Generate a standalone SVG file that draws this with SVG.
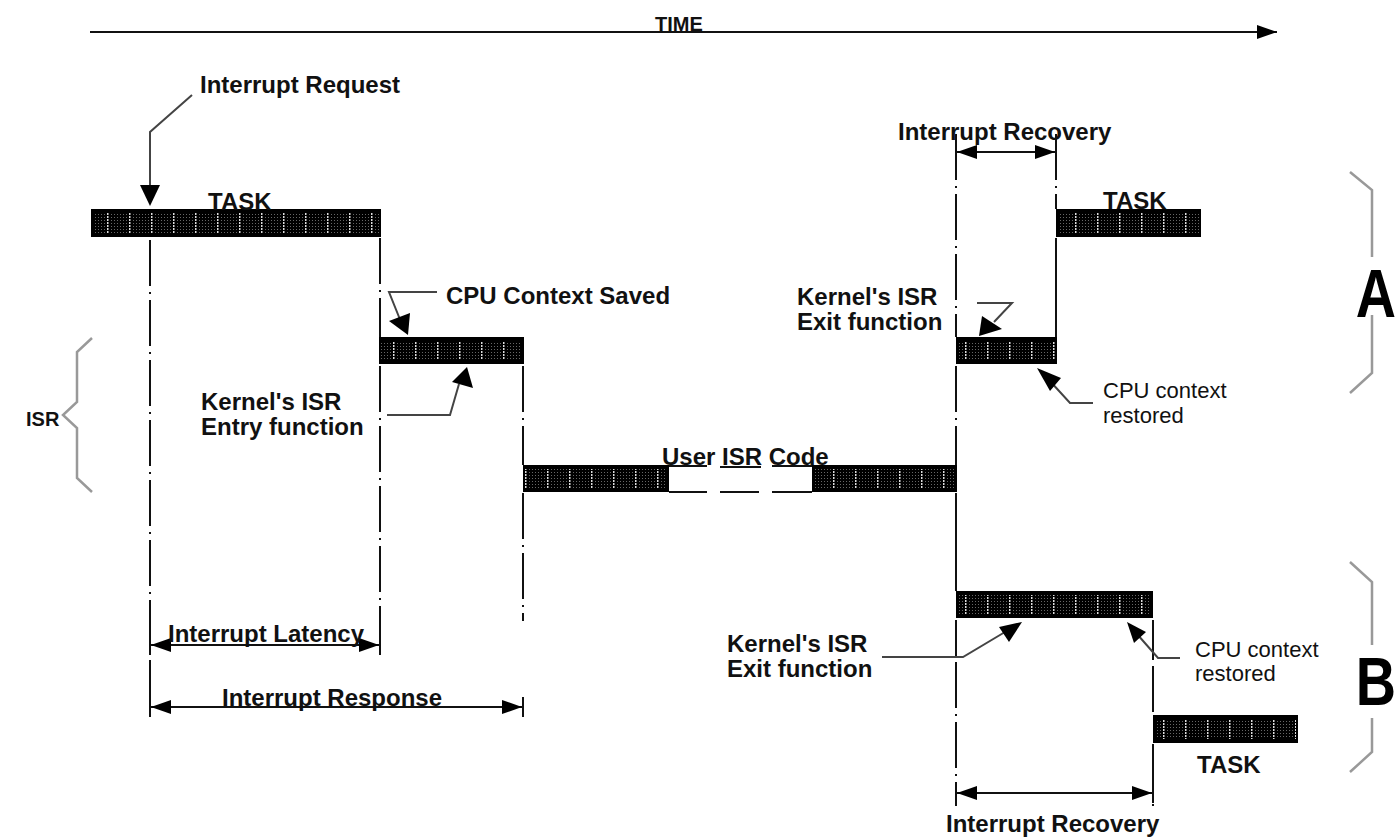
<svg xmlns="http://www.w3.org/2000/svg" width="1397" height="840" viewBox="0 0 1397 840">
<style>
.lbl{font-family:"Liberation Sans",Arial,sans-serif;font-weight:bold;font-size:24px;fill:#111}
.reg{font-family:"Liberation Sans",Arial,sans-serif;font-size:22px;fill:#111}
.big{font-family:"Liberation Sans",Arial,sans-serif;font-weight:bold;font-size:68px;fill:#000}
.ln{stroke:#111;stroke-width:2;fill:none}
.gl{stroke:#444;stroke-width:2;fill:none}
.dd{stroke:#111;stroke-width:2;fill:none;stroke-dasharray:46 6 2 6}
.br{stroke:#999;stroke-width:2.5;fill:none}
.hd{fill:#000}
.bar{fill:#000}
.pat{fill:url(#dots)}
</style>
<defs>
<pattern id="dots" patternUnits="userSpaceOnUse" width="22" height="3">
<rect width="22" height="3" fill="#000"/>
<rect x="1" y="1" width="1" height="1" fill="#666"/>
<rect x="4" y="1" width="1" height="1" fill="#666"/>
<rect x="7" y="1" width="1" height="1" fill="#666"/>
<rect x="10" y="1" width="1" height="1" fill="#666"/>
<rect x="13" y="1" width="1" height="1" fill="#666"/>
<rect x="16" y="1" width="1" height="1" fill="#666"/>
<rect x="19" y="0" width="1.5" height="2" fill="#ddd"/>
</pattern>
<marker id="ah" viewBox="0 0 20 14" refX="20" refY="7" markerWidth="20" markerHeight="14" markerUnits="userSpaceOnUse" orient="auto-start-reverse">
<path d="M0,0 L20,7 L0,14 Z" fill="#000"/>
</marker>
</defs>

<g id="connectors">
<!-- time axis -->
<line class="ln" x1="90" y1="32" x2="1277" y2="32" marker-end="url(#ah)"/>
<!-- vertical guide lines -->
<path class="dd" d="M150,240 V718"/>
<path class="dd" d="M380,238 V337"/>
<path class="dd" d="M380,366 V656"/>
<path class="dd" d="M523,366 V465"/>
<path class="dd" d="M523,493 V621"/>
<path class="ln" d="M523,697 V717"/>
<path class="dd" d="M956,134 V337"/>
<path class="dd" d="M956,366 V465"/>
<path class="ln" d="M956,493 V591"/>
<path class="ln" d="M956,620 V657"/>
<path class="dd" d="M956,662 V806"/>
<path class="dd" d="M1056,134 V209"/>
<path class="ln" d="M1056,238 V337"/>
<path class="ln" d="M1153,620 V660"/>
<path class="dd" d="M1153,666 V715"/>
<path class="dd" d="M1153,744 V806"/>
<!-- User ISR code gap dashes -->
<path class="ln" d="M669,492 H707 M720,492 H759 M772,492 H812"/>
<path class="ln" d="M669,466 H707 M720,467 H761 M772,466 H812"/>
<!-- Interrupt Request -->
<path class="gl" d="M192,95 L150,132 V186"/>
<path class="hd" d="M140,185 L160,185 L150,206 Z"/>
<!-- CPU Context Saved -->
<path class="gl" d="M437,292 H389 L401,322"/>
<path class="hd" d="M389,321 L410,313 L408,335 Z"/>
<!-- Kernel's ISR Entry -->
<path class="gl" d="M387,415 H450 L459,384"/>
<path class="hd" d="M452,382 L473,388 L467,367 Z"/>
<!-- Kernel's ISR Exit (A) -->
<path class="gl" d="M977,303 H1012 L994,322"/>
<path class="hd" d="M982,316 L1002,329 L979,336 Z"/>
<!-- CPU context restored (A) -->
<path class="gl" d="M1093,403 H1070 L1049,380"/>
<path class="hd" d="M1037,368 L1061,378 L1050,391 Z"/>
<!-- Kernel's ISR Exit (B) -->
<path class="gl" d="M882,657 H963 L1005,632"/>
<path class="hd" d="M1022,622 L1009,642 L999,627 Z"/>
<!-- CPU context restored (B) -->
<path class="gl" d="M1180,658 H1158 L1137,634"/>
<path class="hd" d="M1127,622 L1146,632 L1134,643 Z"/>
<!-- dimension arrows -->
<path class="ln" d="M956,143 V161 M1056,143 V161"/>
<line class="ln" x1="957" y1="152" x2="1055" y2="152" marker-start="url(#ah)" marker-end="url(#ah)"/>
<path class="ln" d="M150,635 V655 M380,635 V655"/>
<line class="ln" x1="151" y1="645" x2="379" y2="645" marker-start="url(#ah)" marker-end="url(#ah)"/>
<path class="ln" d="M150,697 V717"/>
<line class="ln" x1="151" y1="707" x2="522" y2="707" marker-start="url(#ah)" marker-end="url(#ah)"/>
<path class="ln" d="M956,783 V803 M1153,783 V803"/>
<line class="ln" x1="957" y1="793" x2="1152" y2="793" marker-start="url(#ah)" marker-end="url(#ah)"/>
<!-- braces -->
<path class="br" d="M92,338 L77,352 V402 L63,415 L77,428 V478 L92,492"/>
<path class="br" d="M1350,172 L1372,190 V257 M1372,315 V373 L1350,393"/>
<path class="br" d="M1350,562 L1372,582 V645 M1372,718 V752 L1350,772"/>
</g>

<g id="time-label"><text class="lbl" x="655" y="31" style="font-size:20px">TIME</text></g>

<g id="task-top">
<rect class="bar" x="91" y="209" width="290" height="28"/>
<rect class="pat" x="93" y="213" width="286" height="20"/>
<text class="lbl" x="208" y="210">TASK</text>
</g>
<g id="interrupt-request"><text class="lbl" x="200" y="93">Interrupt Request</text></g>

<g id="isr-entry">
<rect class="bar" x="379" y="337" width="145" height="27"/>
<rect class="pat" x="381" y="341" width="141" height="19"/>
<text class="lbl" x="446" y="304">CPU Context Saved</text>
<text class="lbl" x="201" y="410">Kernel's ISR</text>
<text class="lbl" x="201" y="435">Entry function</text>
</g>

<g id="user-isr">
<rect class="bar" x="523" y="465" width="146" height="27"/>
<rect class="pat" x="525" y="469" width="142" height="19"/>
<rect class="bar" x="812" y="465" width="145" height="27"/>
<rect class="pat" x="814" y="469" width="141" height="19"/>
<text class="lbl" x="662" y="465">User ISR Code</text>
</g>

<g id="isr-label"><text class="lbl" x="26" y="426" style="font-size:20px">ISR</text></g>

<g id="recovery-a"><text class="lbl" x="898" y="140">Interrupt Recovery</text></g>

<g id="task-a">
<rect class="bar" x="1056" y="209" width="145" height="28"/>
<rect class="pat" x="1058" y="213" width="141" height="20"/>
<text class="lbl" x="1103" y="209">TASK</text>
</g>

<g id="isr-exit-a">
<rect class="bar" x="956" y="337" width="101" height="27"/>
<rect class="pat" x="958" y="341" width="97" height="19"/>
<text class="lbl" x="797" y="305">Kernel's ISR</text>
<text class="lbl" x="797" y="330">Exit function</text>
<text class="reg" x="1103" y="398">CPU context</text>
<text class="reg" x="1103" y="423">restored</text>
</g>

<g id="label-a"><text class="big" transform="translate(1376,317) scale(0.82,1)" text-anchor="middle">A</text></g>

<g id="isr-exit-b">
<rect class="bar" x="956" y="591" width="197" height="27"/>
<rect class="pat" x="958" y="595" width="193" height="19"/>
<text class="lbl" x="727" y="652">Kernel's ISR</text>
<text class="lbl" x="727" y="677">Exit function</text>
<text class="reg" x="1195" y="657">CPU context</text>
<text class="reg" x="1195" y="681">restored</text>
</g>

<g id="task-b">
<rect class="bar" x="1153" y="715" width="145" height="28"/>
<rect class="pat" x="1155" y="719" width="141" height="20"/>
<text class="lbl" x="1197" y="773">TASK</text>
</g>

<g id="label-b"><text class="big" transform="translate(1376,705) scale(0.82,1)" text-anchor="middle">B</text></g>

<g id="latency"><text class="lbl" x="168" y="642">Interrupt Latency</text></g>
<g id="response"><text class="lbl" x="222" y="706">Interrupt Response</text></g>
<g id="recovery-b"><text class="lbl" x="946" y="832">Interrupt Recovery</text></g>
</svg>
